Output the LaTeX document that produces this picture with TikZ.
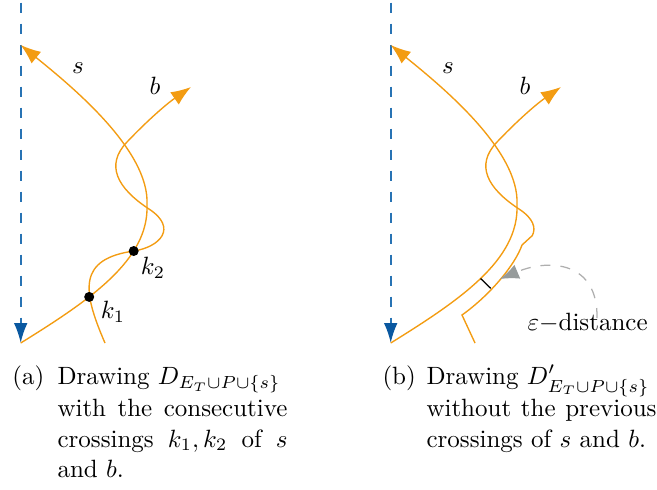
\documentclass[tikz,border=0pt]{standalone}
\usetikzlibrary{arrows.meta}
\definecolor{curveor}{RGB}{243,156,18}
\definecolor{axisblue}{RGB}{40,115,180}
\definecolor{axisheadblue}{RGB}{10,88,160}
\definecolor{epsgray}{RGB}{175,175,175}
\definecolor{epsheadgray}{RGB}{150,155,155}
\tikzset{
  curve/.style={draw=curveor, line width=0.55pt},
  orhead/.style={-{Latex[length=8pt,width=6pt,color=curveor]}},
  orheadrev/.style={{Latex[length=8pt,width=6pt,color=curveor]}-},
  axisline/.style={draw=axisblue, line width=0.8pt, dash pattern=on 4pt off 4.4pt, dash phase=-1pt,
    -{Latex[length=8pt,width=5.5pt,color=axisheadblue]}},
  crossdot/.style={circle, fill=black, inner sep=0pt, minimum size=4pt},
  lbl/.style={inner sep=0pt},
  captxt/.style={inner sep=0pt, anchor=base west},
}
\begin{document}
\begin{tikzpicture}[x=0.4pt, y=-0.4pt]
\useasboundingbox (0,0) rectangle (657,489);

% ---------------- panel (a) ----------------
\coordinate (atop) at (20.7,0);
\coordinate (abot) at (20.7,343);
\draw[axisline] (atop) -- (abot);

\coordinate (sA) at (20.7,45);
\coordinate (sAmid) at (147,205);
\coordinate (k1) at (89.2,296.9);
\coordinate (k2) at (133.7,251);
\coordinate (bA) at (191,87);
\coordinate (bAstart) at (105,343);
\coordinate (bAloop) at (149,209);
\coordinate (bAx) at (127,142);

\draw[curve, orheadrev] (sA) .. controls (70,85) and (150,150) .. (sAmid)
  .. controls (149,260) and (90,300) .. (abot);
\draw[curve, orhead] (bAstart) .. controls (82,290) and (78,259) .. (k2)
  .. controls (160,247) and (178,228) .. (bAloop)
  .. controls (117,188) and (105,165) .. (bAx)
  .. controls (145,123) and (165,105) .. (bA);

\node[crossdot] (dot1) at (k1) {};
\node[crossdot] (dot2) at (k2) {};
\node[lbl] (k1lbl) at (113,312) {$k_1$};
\node[lbl] (k2lbl) at (153,268) {$k_2$};
\node[lbl] (slblA) at (78,68) {$s$};
\node[lbl] (blblA) at (155,86) {$b$};

\node[captxt] (capA) at (12,384) {(a)};
\node[captxt] (capA1) at (57,384) {Drawing $D_{E_T\cup P\cup\{s\}}$};
\node[captxt] (capA2) at (57,416) {\makebox[92pt][s]{with the consecutive}};
\node[captxt] (capA3) at (57,447) {\makebox[92pt][s]{crossings $k_1, k_2$ of $s$}};
\node[captxt] (capA4) at (57,477) {and $b$.};

% ---------------- panel (b) ----------------
\coordinate (btop) at (390.7,0);
\coordinate (bbot) at (390.7,343);
\draw[axisline] (btop) -- (bbot);

\coordinate (sB) at (390.7,45);
\coordinate (sBmid) at (517,205);
\coordinate (bB) at (561,87);
\coordinate (bBstart) at (475,343);
\coordinate (bBk1) at (462,315);
\coordinate (bBk2) at (522,245);
\coordinate (bBk3) at (532.25,235.6);
\coordinate (bBloop) at (519,209);
\coordinate (bBx) at (497,142);

\draw[curve, orheadrev] (sB) .. controls (440,85) and (520,150) .. (sBmid)
  .. controls (519,260) and (460,300) .. (bbot);
\draw[curve, orhead] (bBstart) -- (bBk1)
  .. controls (490,295) and (515,265) .. (bBk2)
  -- (bBk3)
  .. controls (536.25,228) and (533.5,218.5) .. (bBloop)
  .. controls (487,188) and (475,165) .. (bBx)
  .. controls (515,123) and (535,105) .. (bB);

\coordinate (e1) at (480.6,278.5);
\coordinate (e2) at (490.8,288.4);
\draw[black, line width=0.5pt] (e1) -- (e2);

\node[lbl, anchor=base west] (epslbl) at (527,330) {$\varepsilon-$distance};
\coordinate (estart) at (597,318);
\coordinate (etip) at (500,279);
\draw[draw=epsgray, line width=0.5pt, dash pattern=on 4pt off 4pt,
  -{Latex[length=7.5pt,width=6pt,color=epsheadgray]}]
  (estart) .. controls (598,262) and (550,258) .. (etip);

\node[lbl] (slblB) at (448,68) {$s$};
\node[lbl] (blblB) at (525,86) {$b$};

\node[captxt] (capB) at (382,384) {(b)};
\node[captxt] (capB1) at (426,384) {Drawing $D'_{E_T\cup P\cup\{s\}}$};
\node[captxt] (capB2) at (426,416) {\makebox[92pt][s]{without the previous}};
\node[captxt] (capB3) at (426,447) {crossings of $s$ and $b$.};
\end{tikzpicture}
\end{document}
